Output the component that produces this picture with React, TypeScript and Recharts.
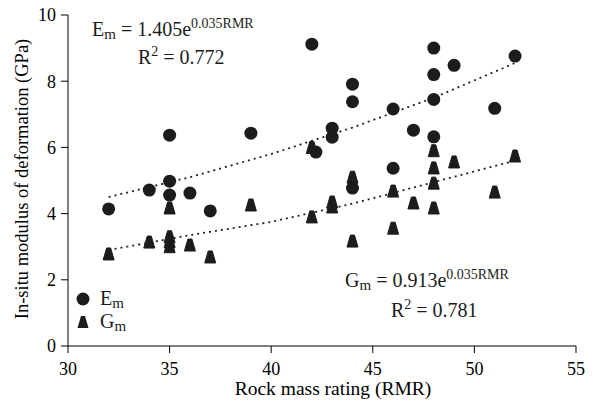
import React from "react";
import {
  ScatterChart,
  Scatter,
  XAxis,
  YAxis,
} from "recharts";

const rmrEm = [32, 34, 35, 35, 35, 36, 37, 39, 42, 42.2, 43, 43, 44, 44, 44, 46, 46, 47, 48, 48, 48, 48, 49, 51, 52];
const emValues = [4.14, 4.71, 6.37, 4.98, 4.56, 4.62, 4.08, 6.43, 9.12, 5.86, 6.58, 6.31, 7.91, 7.38, 4.77, 7.16, 5.37, 6.52, 9.0, 8.2, 7.45, 6.32, 8.48, 7.18, 8.76];
const rmrGm = [32, 34, 35, 35, 35, 35, 36, 37, 39, 42, 42, 43, 43, 44, 44, 46, 46, 47, 48, 48, 48, 48, 49, 51, 52];
const gmValues = [2.78, 3.14, 3.3, 3.15, 3.0, 4.17, 3.05, 2.69, 4.26, 3.9, 6.0, 4.35, 4.2, 3.17, 5.1, 4.68, 3.56, 4.32, 5.9, 5.38, 4.92, 4.17, 5.56, 4.65, 5.74];
const fitRmr = [32, 36, 40, 44, 48, 52];
const emFit = [4.5, 5.1, 5.8, 6.6, 7.5, 8.55];
const gmFit = [2.9, 3.35, 3.75, 4.3, 4.95, 5.6];
const xTicks = [30, 35, 40, 45, 50, 55];
const yTicks = [0, 2, 4, 6, 8, 10];

const FONT = "Liberation Serif";
const INK = "#1c1c1c";

const emData = rmrEm.map((x, i) => ({ x, y: emValues[i] }));
const gmData = rmrGm.map((x, i) => ({ x, y: gmValues[i] }));
const emFitData = fitRmr.map((x, i) => ({ x, y: emFit[i] }));
const gmFitData = fitRmr.map((x, i) => ({ x, y: gmFit[i] }));

const Dot = (props: any) => (
  <circle cx={props.cx} cy={props.cy} r={6.5} fill={INK} />
);

const triPath = (cx: number, cy: number) =>
  `M${cx - 2},${cy - 6} L${cx + 2},${cy - 6} L${cx + 5.5},${cy + 6} L${cx - 5.5},${cy + 6} Z`;

const Tri = (props: any) => (
  <path
    d={triPath(props.cx, props.cy)}
    fill={INK}
    strokeLinejoin="round"
    stroke={INK}
    strokeWidth={1}
  />
);

const Nothing = () => <g />;

// equations, legend and axis titles, drawn over the chart
const Notes = () => (
  <svg
    width={595}
    height={403}
    style={{ position: "absolute", left: 0, top: 0, pointerEvents: "none" }}
  >
    <g fontFamily={FONT} fill={INK}>
      <text x={92} y={36} fontSize={20}>
        E<tspan fontSize={15} dy={3}>m</tspan>
        <tspan dy={-3}> = 1.405e</tspan>
        <tspan fontSize={14} dy={-8}>0.035RMR</tspan>
      </text>
      <text x={138} y={64} fontSize={20}>
        R<tspan fontSize={14} dy={-8}>2</tspan>
        <tspan dy={8}> = 0.772</tspan>
      </text>
      <text x={345} y={287} fontSize={20}>
        G<tspan fontSize={15} dy={3}>m</tspan>
        <tspan dy={-3}> = 0.913e</tspan>
        <tspan fontSize={14} dy={-8}>0.035RMR</tspan>
      </text>
      <text x={391} y={317} fontSize={20}>
        R<tspan fontSize={14} dy={-8}>2</tspan>
        <tspan dy={8}> = 0.781</tspan>
      </text>
      <circle cx={83} cy={299} r={6.5} />
      <text x={100} y={305} fontSize={20}>
        E<tspan fontSize={15} dy={3}>m</tspan>
      </text>
      <path d={triPath(83, 322)} />
      <text x={100} y={328} fontSize={20}>
        G<tspan fontSize={15} dy={3}>m</tspan>
      </text>
      <text
        transform="translate(28,179) rotate(-90)"
        textAnchor="middle"
        fontSize={18.5}
        fill="#000"
      >
        In-situ modulus of deformation (GPa)
      </text>
      <text x={333} y={395} textAnchor="middle" fontSize={19.5} fill="#000">
        Rock mass rating (RMR)
      </text>
    </g>
  </svg>
);

export default function App() {
  return (
    <div
      style={{
        position: "absolute",
        left: 0,
        top: 0,
        width: 595,
        height: 403,
        overflow: "hidden",
        background: "#fff",
      }}
    >
      <ScatterChart
        width={595}
        height={403}
        margin={{ top: 15, right: 19, bottom: 0, left: 0 }}
      >
        <XAxis
          type="number"
          dataKey="x"
          domain={[30, 55]}
          ticks={xTicks}
          tickSize={7}
          tickMargin={9}
          height={57}
          stroke="#000"
          tick={{ fill: "#000", fontSize: 18, fontFamily: FONT }}
        />
        <YAxis
          type="number"
          dataKey="y"
          domain={[0, 10]}
          ticks={yTicks}
          tickSize={7}
          tickMargin={5}
          width={68}
          stroke="#000"
          tick={{ fill: "#000", fontSize: 18, fontFamily: FONT }}
        />
        <Scatter
          name="Em fit"
          data={emFitData}
          line={{ stroke: "#222", strokeWidth: 1.8, strokeDasharray: "2 4" }}
          lineType="joint"
          shape={<Nothing />}
          isAnimationActive={false}
        />
        <Scatter
          name="Gm fit"
          data={gmFitData}
          line={{ stroke: "#222", strokeWidth: 1.8, strokeDasharray: "2 4" }}
          lineType="joint"
          shape={<Nothing />}
          isAnimationActive={false}
        />
        <Scatter name="Em" data={emData} shape={<Dot />} isAnimationActive={false} />
        <Scatter name="Gm" data={gmData} shape={<Tri />} isAnimationActive={false} />
      </ScatterChart>
      <Notes />
    </div>
  );
}
